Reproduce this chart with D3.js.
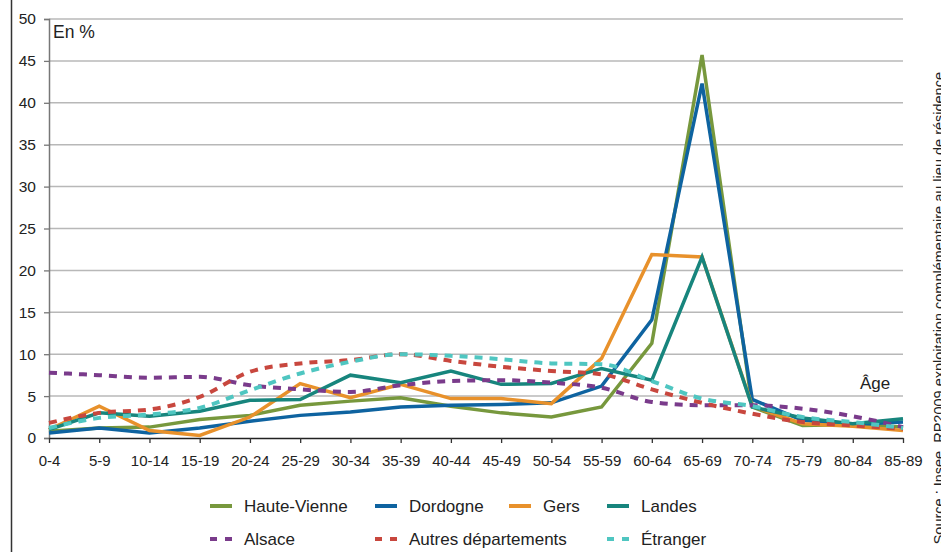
<!DOCTYPE html>
<html lang="fr">
<head>
<meta charset="utf-8">
<title>Âge par lieu de naissance</title>
<script src="https://d3js.org/d3.v7.min.js"></script>
<style>
  body { margin: 0; background: #fff; }
  text { font-family: "Liberation Sans", Arial, sans-serif; fill: #222; }
</style>
</head>
<body>
<script>
// data
var ages = ["0-4","5-9","10-14","15-19","20-24","25-29","30-34","35-39","40-44","45-49",
            "50-54","55-59","60-64","65-69","70-74","75-79","80-84","85-89"];
var yTicks = [0,5,10,15,20,25,30,35,40,45,50];

var hauteVienne = [0.8,1.2,1.3,2.2,2.7,3.9,4.4,4.8,3.8,3.0,2.5,3.7,11.3,45.7,3.7,1.5,1.6,1.3];
var dordogne    = [0.6,1.2,0.6,1.2,2.0,2.7,3.1,3.7,3.9,4.0,4.2,6.2,14.1,42.3,4.6,2.1,1.6,1.9];
var gers        = [1.0,3.8,0.9,0.3,2.5,6.5,4.8,6.4,4.7,4.7,4.1,9.5,21.9,21.6,3.8,1.7,1.4,0.9];
var landes      = [1.0,3.0,2.6,3.2,4.5,4.6,7.5,6.6,8.0,6.4,6.5,8.3,6.9,21.6,3.7,2.4,1.7,2.3];
var alsace      = [7.8,7.5,7.2,7.3,6.3,5.8,5.5,6.3,6.8,6.9,6.6,6.0,4.3,3.9,3.9,3.5,2.6,1.3];
var autres      = [1.8,3.0,3.4,4.9,7.9,8.9,9.3,10.0,9.2,8.5,8.0,7.6,5.8,4.2,2.9,1.9,1.5,1.1];
var etranger    = [1.2,2.4,2.8,3.6,5.7,7.7,9.1,10.0,9.8,9.4,8.9,8.8,6.8,4.7,3.8,2.5,1.9,1.2];

var seriesNames = ["Haute-Vienne","Dordogne","Gers","Landes","Alsace","Autres départements","Étranger"];
var seriesValues = [hauteVienne, dordogne, gers, landes, alsace, autres, etranger];
var seriesColors = ["#77983d","#0e63a0","#e8912b","#17857d","#7a3b8b","#c8473e","#4fc6c1"];
var seriesDashed = [false,false,false,false,true,true,true];

// layout
var width = 941, height = 552;
var x0 = 49, x1 = 903, yTop = 19, yBottom = 438;

var svg = d3.select("body").append("svg")
    .attr("width", width)
    .attr("height", height);

var xScale = d3.scalePoint().domain(ages).range([x0, x1]).padding(0);
var yScale = d3.scaleLinear().domain([0, 50]).range([yBottom, yTop]);

// outer frame line on the left
svg.append("line")
    .attr("x1", 11.5).attr("x2", 11.5).attr("y1", 0).attr("y2", height)
    .attr("stroke", "#333").attr("stroke-width", 1.5);

// gridlines
svg.append("g").selectAll("line")
    .data(yTicks.filter(function (d) { return d > 0; }))
    .enter().append("line")
    .attr("x1", x0).attr("x2", x1)
    .attr("y1", function (d) { return yScale(d); })
    .attr("y2", function (d) { return yScale(d); })
    .attr("stroke", "#b8b8b8").attr("stroke-width", 1.5);

// y axis
var yAxis = svg.append("g")
    .attr("transform", "translate(" + x0 + ",0)")
    .call(d3.axisLeft(yScale).tickValues(yTicks).tickSize(5).tickPadding(8));
yAxis.select(".domain").attr("stroke", "#777").attr("stroke-width", 1.5);
yAxis.selectAll(".tick line").attr("stroke", "#777").attr("stroke-width", 1.3);
yAxis.selectAll("text").style("font-size", "15.5px").attr("fill", "#222")
    .style("font-family", "'Liberation Sans', Arial, sans-serif");

// x axis
var xAxis = svg.append("g")
    .attr("transform", "translate(0," + yBottom + ")")
    .call(d3.axisBottom(xScale).tickSize(5).tickSizeOuter(0).tickPadding(12));
xAxis.select(".domain").attr("stroke", "#222").attr("stroke-width", 1.5);
xAxis.selectAll(".tick line").attr("stroke", "#333").attr("stroke-width", 1.3);
xAxis.selectAll("text").style("font-size", "15px").attr("fill", "#222")
    .style("font-family", "'Liberation Sans', Arial, sans-serif");

// lines
var lineStraight = d3.line()
    .x(function (d, i) { return xScale(ages[i]); })
    .y(function (d) { return yScale(d); });
var lineSmooth = d3.line()
    .curve(d3.curveMonotoneX)
    .x(function (d, i) { return xScale(ages[i]); })
    .y(function (d) { return yScale(d); });

var plot = svg.append("g");
seriesValues.forEach(function (vals, k) {
    plot.append("path")
        .attr("d", seriesDashed[k] ? lineSmooth(vals) : lineStraight(vals))
        .attr("fill", "none")
        .attr("stroke", seriesColors[k])
        .attr("stroke-width", seriesDashed[k] ? 4 : 3.5)
        .attr("stroke-linejoin", "miter")
        .attr("stroke-dasharray", seriesDashed[k] ? "8,7" : null);
});

// axis titles
svg.append("text").attr("x", 53).attr("y", 38)
    .style("font-size", "17.5px").text("En %");
svg.append("text").attr("x", 860).attr("y", 389)
    .style("font-size", "17px").text("Âge");

// legend
var legendPos = [[210,506],[375,506],[509,506],[607,506],[210,539],[375,539],[607,539]];
var legend = svg.append("g");
seriesNames.forEach(function (name, k) {
    var p = legendPos[k];
    legend.append("line")
        .attr("x1", p[0]).attr("x2", p[0] + 22)
        .attr("y1", p[1]).attr("y2", p[1])
        .attr("stroke", seriesColors[k])
        .attr("stroke-width", 4)
        .attr("stroke-dasharray", seriesDashed[k] ? "7,8" : null);
    legend.append("text")
        .attr("x", p[0] + 34).attr("y", p[1] + 6)
        .style("font-size", "17px")
        .text(name);
});

// source note, rotated and cut by the right edge
svg.append("text")
    .attr("transform", "translate(944,72) rotate(-90)")
    .attr("text-anchor", "end")
    .style("font-size", "14.5px")
    .text("Source : Insee, RP2009 exploitation complémentaire au lieu de résidence");
</script>
</body>
</html>
